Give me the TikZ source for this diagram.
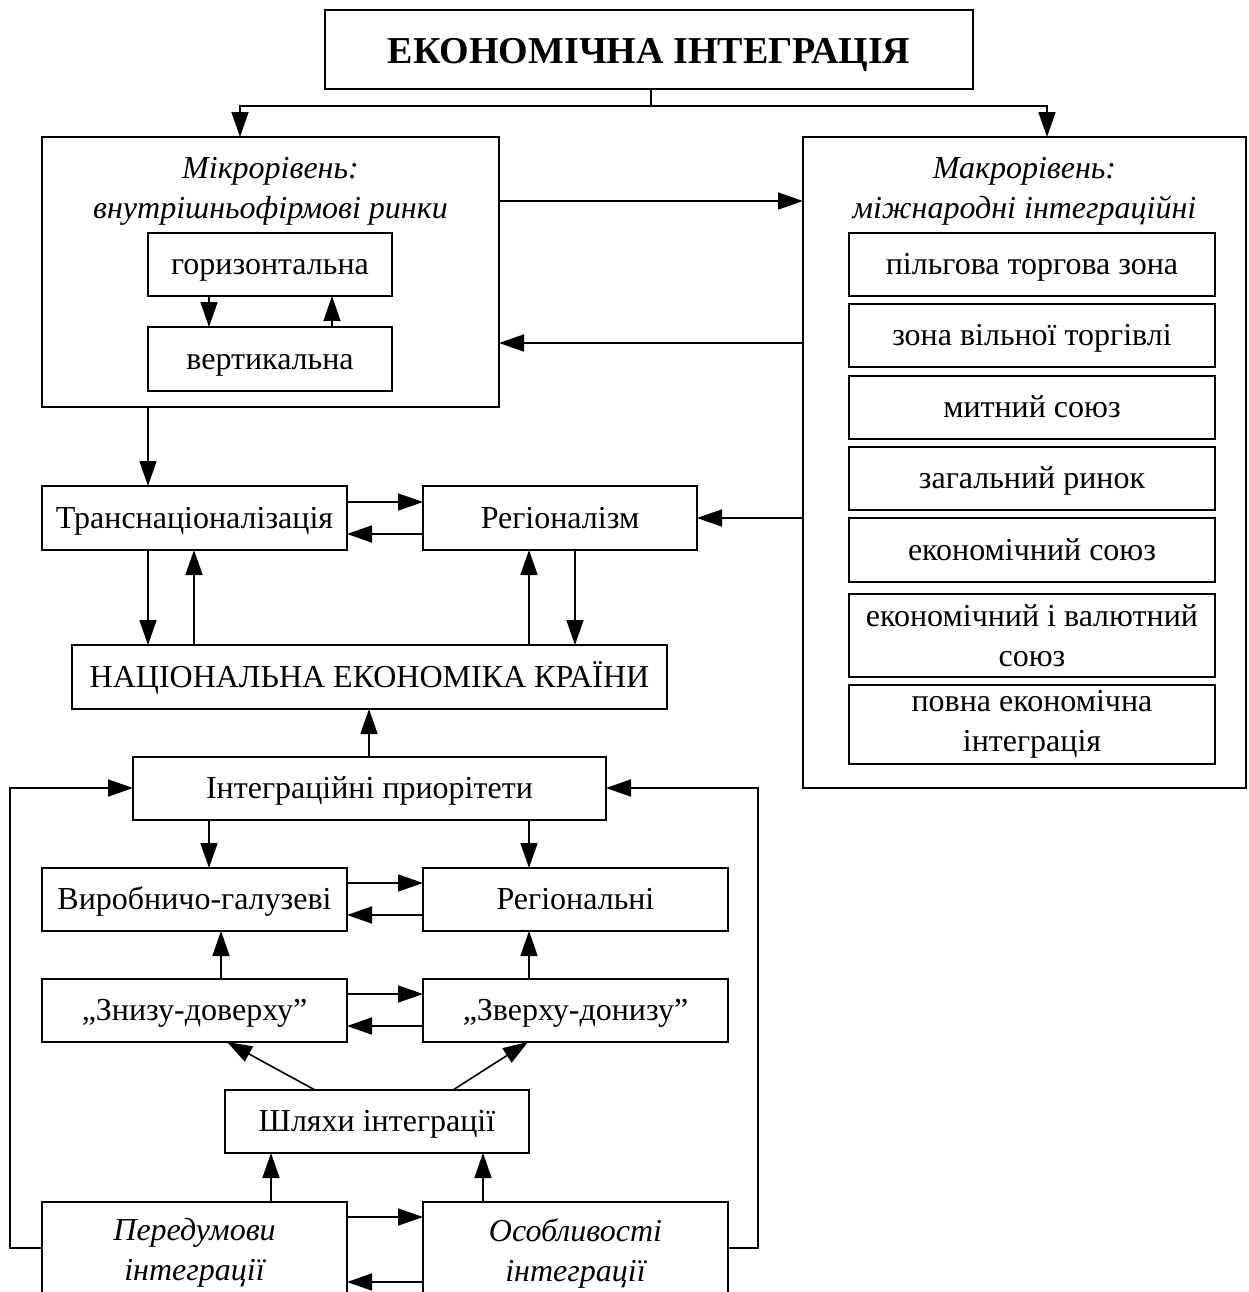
\documentclass[tikz,border=0pt]{standalone}
\usepackage{fontspec}
\setmainfont{Liberation Serif}
\usetikzlibrary{arrows.meta}
\tikzset{
  box/.style={draw, line width=1pt, inner sep=0pt, outer sep=0pt, align=center,
    font=\fontsize{16}{20}\selectfont},
  one/.style={text height=11.7pt, text depth=1.5pt},
  lbl/.style={inner sep=0pt, align=center, font=\fontsize{16}{20}\selectfont\itshape},
  ln/.style={line width=0.8pt},
  arr/.style={line width=0.8pt, -{Triangle[length=12.5pt,width=8.5pt]}},
}
\newcommand\mybox[7][]{%
  \node[box,#1,minimum width={(#5-#3)*0.5pt},minimum height={(#6-#4)*0.5pt}]
    (#2) at ({(#3+#5)/2},{(#4+#6)/2}) {#7};}
\begin{document}
\begin{tikzpicture}[x=0.5pt,y=-0.5pt]
\useasboundingbox (0,0) rectangle (1249,1292);
\clip (0,0) rectangle (1249,1292);
\fill[white] (0,0) rectangle (1249,1292);
% helper coordinates
\foreach \v in {10,148,194,209,221,227,240,271,315,332,369,453,483,528,529,575,651,758,1047}
  {\coordinate (X\v) at (\v,0);}
\foreach \v in {106,201,343,502,518,534,788,883,915,994,1026,1217,1248,1282}
  {\coordinate (Y\v) at (0,\v);}
% boxes
\mybox[font=\fontsize{19}{23}\selectfont\bfseries, text height=15pt, text depth=1.5pt]{title}{325}{10}{973}{89}{ЕКОНОМІЧНА ІНТЕГРАЦІЯ}
\mybox{micro}{42}{137}{499}{407}{}
\node[lbl] (microtxt) at (270.5,191) {Мікрорівень:\\внутрішньофірмові ринки};
\mybox[one]{hor}{148}{233}{392}{296}{горизонтальна}
\mybox[one]{vert}{148}{327}{392}{391}{вертикальна}
\mybox{macro}{803}{137}{1246}{788}{}
\node[lbl] (macrotxt) at (1024.5,191) {Макрорівень:\\міжнародні інтеграційні};
\mybox[one]{m1}{849}{233}{1215}{296}{пільгова торгова зона}
\mybox[one]{m2}{849}{304}{1215}{367}{зона вільної торгівлі}
\mybox[one]{m3}{849}{376}{1215}{439}{митний союз}
\mybox[one]{m4}{849}{447}{1215}{510}{загальний ринок}
\mybox[one]{m5}{849}{518}{1215}{582}{економічний союз}
\mybox{m6}{849}{594}{1215}{677}{економічний і валютний\\союз}
\mybox{m7}{849}{685}{1215}{764}{повна економічна\\інтеграція}
\mybox[one]{trans}{42}{486}{347}{550}{Транснаціоналізація}
\mybox[one]{reg}{423}{486}{697}{550}{Регіоналізм}
\mybox[one]{nek}{72}{645}{667}{709}{НАЦІОНАЛЬНА ЕКОНОМІКА КРАЇНИ}
\mybox[one]{int}{133}{757}{606}{820}{Інтеграційні приорітети}
\mybox[one]{vyr}{42}{868}{347}{931}{Виробничо-галузеві}
\mybox[one]{regn}{423}{868}{728}{931}{Регіональні}
\mybox[one]{zn}{42}{979}{347}{1042}{„Знизу-доверху”}
\mybox[one]{zv}{423}{979}{728}{1042}{„Зверху-донизу”}
\mybox[one]{shl}{225}{1090}{529}{1153}{Шляхи інтеграції}
\mybox[font=\fontsize{16}{20}\selectfont\itshape]{per}{42}{1202}{347}{1304}{Передумови\\інтеграції}
\mybox[font=\fontsize{16}{20}\selectfont\itshape]{os}{423}{1202}{728}{1304}{Особливості\\інтеграції}
% connectors
\coordinate (br) at (651,106);
\draw[ln] (title.south -| br) -- (br);
\draw[arr] (br) -| (X240 |- micro.north);
\draw[arr] (br) -| (X1047 |- macro.north);
\draw[arr] (micro.east |- Y201) -- (macro.west |- Y201);
\draw[arr] (macro.west |- Y343) -- (micro.east |- Y343);
\draw[arr] (X209 |- hor.south) -- (X209 |- vert.north);
\draw[arr] (X332 |- vert.north) -- (X332 |- hor.south);
\draw[arr] (X148 |- micro.south) -- (X148 |- trans.north);
\draw[arr] (trans.east |- Y502) -- (reg.west |- Y502);
\draw[arr] (reg.west |- Y534) -- (trans.east |- Y534);
\draw[arr] (macro.west |- Y518) -- (reg.east |- Y518);
\draw[arr] (X148 |- trans.south) -- (X148 |- nek.north);
\draw[arr] (X194 |- nek.north) -- (X194 |- trans.south);
\draw[arr] (X529 |- nek.north) -- (X529 |- reg.south);
\draw[arr] (X575 |- reg.south) -- (X575 |- nek.north);
\draw[arr] (X369 |- int.north) -- (X369 |- nek.south);
\draw[arr] (X209 |- int.south) -- (X209 |- vyr.north);
\draw[arr] (X529 |- int.south) -- (X529 |- regn.north);
\draw[arr] (vyr.east |- Y883) -- (regn.west |- Y883);
\draw[arr] (regn.west |- Y915) -- (vyr.east |- Y915);
\draw[arr] (zn.east |- Y994) -- (zv.west |- Y994);
\draw[arr] (zv.west |- Y1026) -- (zn.east |- Y1026);
\draw[arr] (X221 |- zn.north) -- (X221 |- vyr.south);
\draw[arr] (X529 |- zv.north) -- (X529 |- regn.south);
\draw[arr] (X315 |- shl.north) -- (X227 |- zn.south);
\draw[arr] (X453 |- shl.north) -- (X528 |- zv.south);
\draw[arr] (X271 |- per.north) -- (X271 |- shl.south);
\draw[arr] (X483 |- os.north) -- (X483 |- shl.south);
\draw[arr] (per.east |- Y1217) -- (os.west |- Y1217);
\draw[arr] (os.west |- Y1282) -- (per.east |- Y1282);
\draw[arr] (per.west |- Y1248) -| (X10 |- Y788) -- (int.west |- Y788);
\draw[arr] (os.east |- Y1248) -| (X758 |- Y788) -- (int.east |- Y788);
\end{tikzpicture}
\end{document}
